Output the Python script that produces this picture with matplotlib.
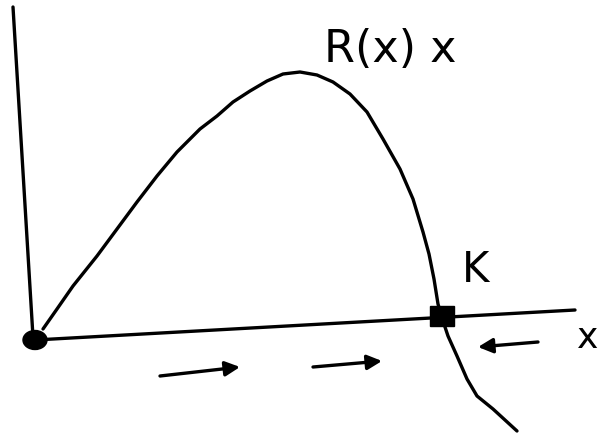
import matplotlib.pyplot as plt
from matplotlib.patches import Ellipse, Rectangle

# sketch coordinates (x to the right, y downward)
curve_x = [43, 57, 73, 97, 117, 137, 157, 177, 200, 217, 233, 250, 267, 283, 300, 317, 333, 350,
           367, 383, 400, 413, 423, 429, 434, 438, 443, 448, 457, 467, 477, 493, 505, 517]
curve_y = [330, 310, 287, 257, 230, 203, 177, 153, 130, 117, 103, 92, 82, 75, 73, 76, 83, 95,
           113, 140, 170, 200, 233, 255, 280, 305, 322, 337, 357, 380, 397, 410, 421, 432]

v_axis_x = [13, 33]
v_axis_y = [8, 338]
h_axis_x = [35, 575]
h_axis_y = [341, 311]

origin = (35, 341)
carrying_k = (442, 317)

flow_start = [(160, 377), (313, 368), (538, 343)]
flow_end = [(240, 368), (382, 362), (478, 348)]

labels = ["R(x) x", "K", "x"]
label_pos = [(390, 50), (476, 270), (588, 338)]
label_size = [32, 30, 26]

fig = plt.figure(figsize=(6.08, 4.35), dpi=100)
ax = fig.add_axes([0, 0, 1, 1])
ax.set_xlim(0, 608)
ax.set_ylim(435, 0)
ax.axis('off')

lw = 2.4
ax.plot(v_axis_x, v_axis_y, color='black', lw=lw, solid_capstyle='round')
ax.plot(h_axis_x, h_axis_y, color='black', lw=lw, solid_capstyle='round')
ax.plot(curve_x, curve_y, color='black', lw=lw, solid_capstyle='round', solid_joinstyle='round')

# equilibria: unstable at 0, stable at K
ax.add_patch(Ellipse(origin, 24, 19, color='black', zorder=5))
ax.add_patch(Rectangle((carrying_k[0] - 12, carrying_k[1] - 10), 24, 20, color='black', zorder=5))

for s, e in zip(flow_start, flow_end):
    ax.annotate('', xy=e, xytext=s,
                arrowprops=dict(arrowstyle='-|>', color='black', lw=2.4,
                                mutation_scale=22, shrinkA=0, shrinkB=0))

for t, p, fs in zip(labels, label_pos, label_size):
    ax.text(p[0], p[1], t, fontsize=fs, ha='center', va='center', color='black')

fig.savefig('out.png', dpi=100)
